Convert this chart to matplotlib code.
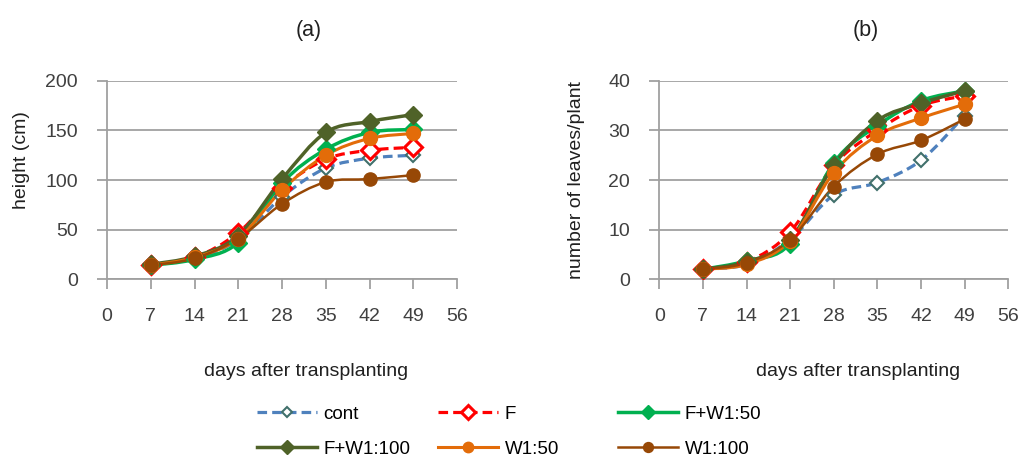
import numpy as np
import matplotlib.pyplot as plt
from matplotlib.path import Path
from matplotlib.patches import PathPatch
from matplotlib.lines import Line2D

plt.rcParams['font.family'] = ['Liberation Sans', 'DejaVu Sans']

days = [7, 14, 21, 28, 35, 42, 49]
series_names = ["cont", "F", "F+W1:50", "F+W1:100", "W1:50", "W1:100"]

# (a) plant height, cm
height_cont = [14, 21, 40, 83, 112, 122, 125]
height_F = [14, 22, 47, 92, 121, 130, 133]
height_FW50 = [14, 20, 37, 97, 131, 148, 151]
height_FW100 = [15, 23, 44, 101, 148, 159, 166]
height_W50 = [14, 22, 41, 90, 125, 142, 147]
height_W100 = [14, 21, 41, 76, 98, 101, 105]

# (b) number of leaves per plant
leaves_cont = [2, 3, 8, 17, 19.5, 24, 33]
leaves_F = [2, 3.5, 9.5, 23, 30, 35, 37]
leaves_FW50 = [2, 3.7, 7.2, 23.5, 31, 36, 38]
leaves_FW100 = [2, 3.5, 8, 23, 32, 35.5, 38]
leaves_W50 = [2, 3, 7.8, 21.5, 29, 32.5, 35.3]
leaves_W100 = [2, 3.3, 8, 18.7, 25.2, 28, 32.3]

styles = {
    "cont": dict(color="#4F81BD", ls=(0, (3, 1.6)), lw=2.3, marker="D", ms=7,
                 mfc="white", mec="#41706B", mew=1.5),
    "F": dict(color="#FF0000", ls=(0, (3, 1.6)), lw=2.3, marker="D", ms=9,
              mfc="white", mec="#FF0000", mew=2.2),
    "F+W1:50": dict(color="#00B050", ls="-", lw=2.5, marker="D", ms=9,
                    mfc="#00B050", mec="#00B050", mew=1),
    "F+W1:100": dict(color="#4F6228", ls="-", lw=2.5, marker="D", ms=9,
                     mfc="#4F6228", mec="#4F6228", mew=1),
    "W1:50": dict(color="#E36C09", ls="-", lw=2.2, marker="o", ms=10,
                  mfc="#E36C09", mec="#E36C09", mew=1),
    "W1:100": dict(color="#974806", ls="-", lw=1.8, marker="o", ms=9.5,
                   mfc="#974806", mec="#974806", mew=1),
}


def smooth_path(x, y):
    # excel-style smoothed line: cubic bezier through the points
    p = np.column_stack([x, y]).astype(float)
    ext = np.vstack([p[0], p, p[-1]])
    verts = [p[0]]
    codes = [Path.MOVETO]
    for i in range(len(p) - 1):
        p0, p1, p2, p3 = ext[i], ext[i + 1], ext[i + 2], ext[i + 3]
        c1 = p1 + (p2 - p0) / 6.0
        c2 = p2 - (p3 - p1) / 6.0
        verts += [c1, c2, p2]
        codes += [Path.CURVE4] * 3
    return Path(verts, codes)


def draw(ax, data, ymax, ystep):
    for name, vals in zip(series_names, data):
        st = styles[name]
        patch = PathPatch(smooth_path(days, vals), fill=False, edgecolor=st["color"],
                          lw=st["lw"], ls=st["ls"], capstyle="butt", zorder=3)
        ax.add_patch(patch)
        ax.plot(days, vals, ls="none", marker=st["marker"], ms=st["ms"],
                mfc=st["mfc"], mec=st["mec"], mew=st["mew"], zorder=4)
    ax.set_xlim(0, 56)
    ax.set_ylim(0, ymax)
    ax.set_xticks(range(0, 57, 7))
    ax.set_yticks(np.arange(0, ymax + 1, ystep))
    ax.yaxis.grid(True, color="#A0A0A0", lw=1.3)
    ax.set_axisbelow(True)
    for s in ["top", "right"]:
        ax.spines[s].set_visible(False)
    for s in ["left", "bottom"]:
        ax.spines[s].set_color("#A0A0A0")
        ax.spines[s].set_linewidth(1.3)
    ax.tick_params(axis="both", colors="#A0A0A0", labelcolor="#404040",
                   labelsize=14, length=7, width=1.3)
    ax.tick_params(axis="x", pad=14)
    ax.tick_params(axis="y", pad=14)


fig = plt.figure(figsize=(10.19, 4.57), dpi=100)
ax1 = fig.add_axes([0.105, 0.389, 0.3435, 0.434])
ax2 = fig.add_axes([0.647, 0.389, 0.3425, 0.434])

draw(ax1, [height_cont, height_F, height_FW50, height_FW100, height_W50, height_W100], 200, 50)
draw(ax2, [leaves_cont, leaves_F, leaves_FW50, leaves_FW100, leaves_W50, leaves_W100], 40, 10)

ax1.set_ylabel("height (cm)", fontsize=14, color="#202020")
ax1.yaxis.set_label_coords(-0.22, 0.6)
ax2.set_ylabel("number of leaves/plant", fontsize=14, color="#202020")
ax2.yaxis.set_label_coords(-0.212, 0.5)
for ax in (ax1, ax2):
    ax.set_xlabel("days after transplanting", fontsize=14, color="#202020")
    ax.xaxis.set_label_coords(0.57, -0.42)

fig.text(0.303, 0.934, "(a)", ha="center", va="center", fontsize=15.5, color="#202020")
fig.text(0.85, 0.934, "(b)", ha="center", va="center", fontsize=15.5, color="#202020")

# legend: three columns placed separately, two entries each
handles = {}
for name in series_names:
    st = styles[name]
    handles[name] = Line2D([], [], color=st["color"], ls=st["ls"], lw=st["lw"],
                           marker=st["marker"], ms=st["ms"] * 0.75, mfc=st["mfc"],
                           mec=st["mec"], mew=st["mew"])
columns = [(0.252, ["cont", "F+W1:100"]), (0.430, ["F", "W1:50"]), (0.6065, ["F+W1:50", "W1:100"])]
for xpos, names in columns:
    fig.legend([handles[n] for n in names], names, loc="upper left",
               bbox_to_anchor=(xpos, 0.112), frameon=False, fontsize=13.5,
               handlelength=3.2, handletextpad=0.35, labelspacing=0.95,
               numpoints=1, borderaxespad=0, borderpad=0)

fig.savefig("out.png", dpi=100)
